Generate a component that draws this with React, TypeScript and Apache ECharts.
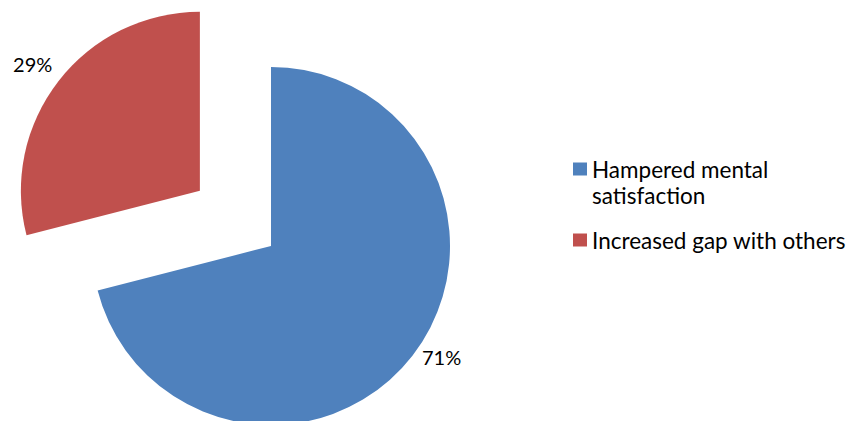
import React, { useEffect, useRef } from "react";
import * as echarts from "echarts";

const categories = ["Hampered mental satisfaction", "Increased gap with others"];
const values = [71, 29];
const colors = ["#4F81BD", "#C0504D"];
const legendLines = [" \nHampered mental\nsatisfaction", "Increased gap with others"];

const FONT = "Lato";

export default function App() {
  const ref = useRef<HTMLDivElement>(null);
  useEffect(() => {
    document.body.style.margin = "0";
    const chart = echarts.init(ref.current!, null, { renderer: "svg" });
    const lineH = 26;
    chart.setOption({
      animation: false,
      backgroundColor: "#ffffff",
      legend: {
        orient: "vertical",
        left: 573,
        top: 130,
        padding: 0,
        itemGap: 19,
        itemWidth: 14,
        itemHeight: 13,
        icon: "rect",
        selectedMode: false,
        data: categories,
        formatter: (name: string) => legendLines[categories.indexOf(name)],
        textStyle: { fontFamily: FONT, fontSize: 22.5, lineHeight: lineH, color: "#000" },
      },
      series: [
        {
          type: "pie",
          center: [271, 246],
          radius: 179,
          startAngle: 90,
          clockwise: true,
          selectedMode: "single",
          selectedOffset: 90,
          avoidLabelOverlap: false,
          emphasis: { disabled: true },
          select: { itemStyle: { borderWidth: 0 } },
          itemStyle: { borderWidth: 0 },
          label: {
            show: true,
            position: "outside",
            formatter: "{d}%",
            fontFamily: FONT,
            fontSize: 20,
            color: "#000",
          },
          labelLine: { show: false },
          data: [
            {
              name: categories[0],
              value: values[0],
              itemStyle: { color: colors[0] },
              labelLine: { show: false, length: 2, length2: 3 },
              label: { distanceToLabelLine: 5 },
            },
            {
              name: categories[1],
              value: values[1],
              selected: true,
              itemStyle: { color: colors[1] },
              labelLine: { show: false, length: 28, length2: 0 },
              label: { distanceToLabelLine: -16 },
            },
          ],
        },
      ],
    });
    return () => chart.dispose();
  }, []);
  return <div ref={ref} style={{ width: 850, height: 421 }} />;
}
